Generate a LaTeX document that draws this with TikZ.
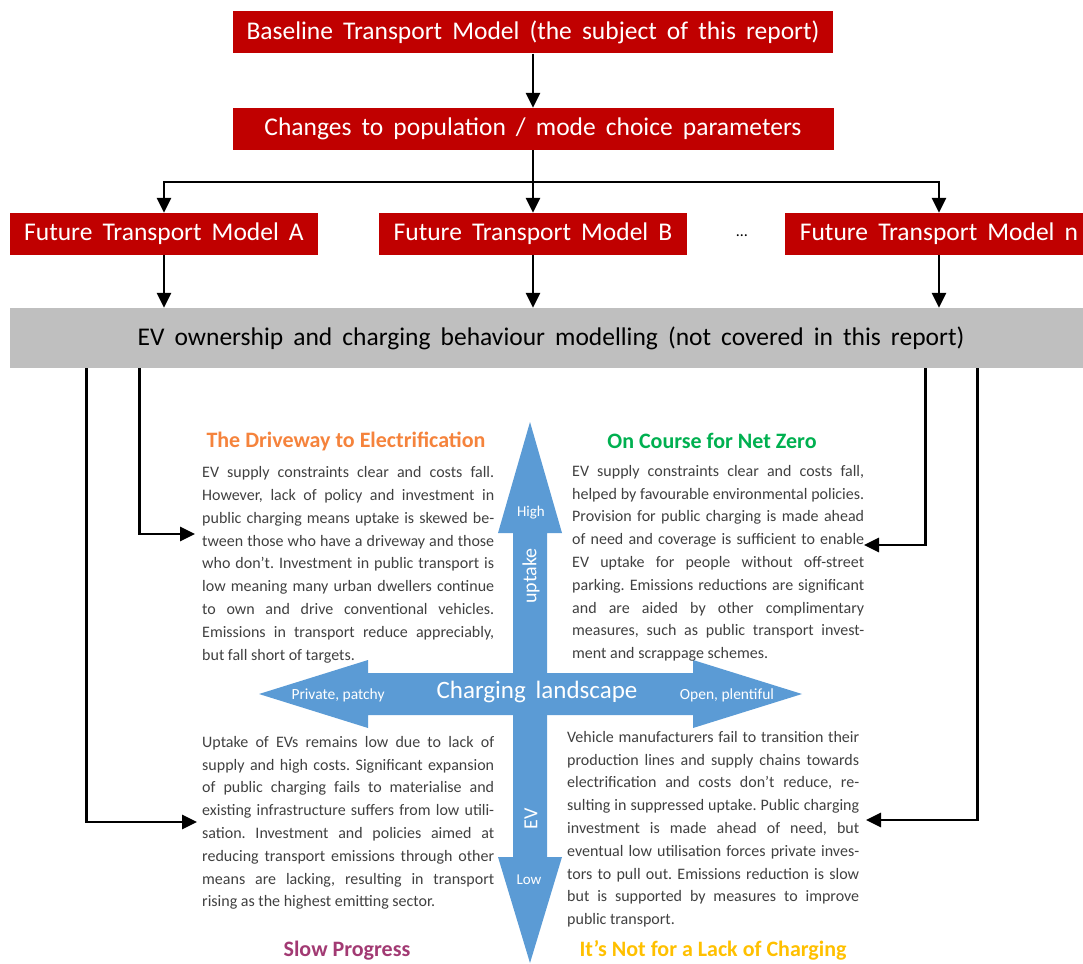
\documentclass[tikz,border=0pt]{standalone}
\usepackage{fontspec}
\setmainfont{Carlito}
\newfontfamily\boxfont{Carlito}[WordSpace=1.75]
\usetikzlibrary{arrows.meta}

\definecolor{boxred}{HTML}{C00000}
\definecolor{boxgrey}{HTML}{BFBFBF}
\definecolor{crossblue}{HTML}{5B9BD5}
\definecolor{txtgrey}{HTML}{404040}
\definecolor{ttlorange}{HTML}{F5833C}
\definecolor{ttlgreen}{HTML}{00B050}
\definecolor{ttlpurple}{HTML}{A23A73}
\definecolor{ttlgold}{HTML}{FFC000}

\begin{document}
\begin{tikzpicture}[>={Triangle[length=15pt,width=14pt]},x=1pt,y=-1pt,
  model/.style={fill=boxred,text=white,inner sep=0pt,minimum height=42pt,
    font=\boxfont\fontsize{25.5}{28}\selectfont},
  flow/.style={->,line width=2.8pt},
  para/.style={anchor=north west,inner sep=0pt,text width=292pt,align=justify,
    text=txtgrey,font=\fontsize{16}{22.8}\selectfont},
  title/.style={anchor=base,font=\bfseries\fontsize{22}{24}\selectfont},
  axis/.style={text=white,inner sep=0pt}]
\useasboundingbox (0,0) rectangle (1083,963);
\frenchspacing
\tolerance=10000 \hyphenpenalty=10000 \exhyphenpenalty=10000

% model chain
\node[model,minimum width=600pt] (base) at (533,32.5) {Baseline Transport Model (the subject of this report)};
\node[model,minimum width=601pt] (chg) at (533,129) {Changes to population / mode choice parameters};
\node[model,minimum width=308pt] (mA) at (164,234) {Future Transport Model A};
\node[model,minimum width=308pt] (mB) at (533,234) {Future Transport Model B};
\node[model,minimum width=308pt] (mN) at (939,234) {Future Transport Model n};
\node[font=\fontsize{16}{18}\selectfont] (dots) at (742,236) {\ldots};
\node[fill=boxgrey,inner sep=0pt,minimum width=1082pt,minimum height=60pt,
  font=\boxfont\fontsize{25.5}{28}\selectfont] (evm) at (551,338)
  {EV ownership and charging behaviour modelling (not covered in this report)};

\coordinate (split) at (533,182);
\draw[flow] (base) -- (chg);
\draw[flow] (chg) -- (mB);
\draw[flow] (split) -| (mA.north);
\draw[flow] (split) -| (mN.north);
\draw[flow] (mA) -- (mA |- evm.north);
\draw[flow] (mB) -- (mB |- evm.north);
\draw[flow] (mN) -- (mN |- evm.north);

% charging landscape / EV uptake cross
\fill[crossblue] (259,694) -- (368,660) -- (368,673) -- (693,673) -- (693,660)
  -- (802,694) -- (693,728) -- (693,715) -- (368,715) -- (368,728) -- cycle;
\fill[crossblue] (530,422) -- (562,533) -- (547,533) -- (547,857) -- (562,857)
  -- (530,963) -- (498,857) -- (513,857) -- (513,533) -- (498,533) -- cycle;
\node[axis,font=\boxfont\fontsize{25}{28}\selectfont] (land) at (537,692) {Charging landscape};
\node[axis,font=\fontsize{15.5}{17}\selectfont] (priv) at (338,695) {Private, patchy};
\node[axis,font=\fontsize{15.5}{17}\selectfont] (open) at (727,695) {Open, plentiful};
\node[axis,font=\fontsize{15}{17}\selectfont] (high) at (531,513) {High};
\node[axis,font=\fontsize{15}{17}\selectfont] (low) at (529,880) {Low};
\node[axis,rotate=90,font=\fontsize{20}{24}\selectfont] (upt) at (531,576) {uptake};
\node[axis,rotate=90,font=\fontsize{20}{24}\selectfont] (ev) at (531,819) {EV};

% scenario quadrants
\node[title,text=ttlorange] (ttl) at (346,447) {The Driveway to Electrification};
\node[title,text=ttlgreen] (ttr) at (712,448) {On Course for Net Zero};
\node[title,text=ttlpurple] (tbl) at (347,956) {Slow Progress};
\node[title,text=ttlgold] (tbr) at (713,956) {It’s Not for a Lack of Charging};

\node[para] (tl) at (202,465.5) {\rule{0pt}{12pt}EV supply constraints clear and costs fall.\linebreak
However, lack of policy and investment in\linebreak
public charging means uptake is skewed be-\linebreak
tween those who have a driveway and those\linebreak
who don’t. Investment in public transport is\linebreak
low meaning many urban dwellers continue\linebreak
to own and drive conventional vehicles.\linebreak
Emissions in transport reduce appreciably,\linebreak
but fall short of targets.};
\node[para] (tr) at (572,464) {\rule{0pt}{12pt}EV supply constraints clear and costs fall,\linebreak
helped by favourable environmental policies.\linebreak
Provision for public charging is made ahead\linebreak
of need and coverage is sufficient to enable\linebreak
EV uptake for people without off-street\linebreak
parking. Emissions reductions are significant\linebreak
and are aided by other complimentary\linebreak
measures, such as public transport invest-\linebreak
ment and scrappage schemes.};
\node[para] (bl) at (202,735) {\rule{0pt}{12pt}Uptake of EVs remains low due to lack of\linebreak
supply and high costs. Significant expansion\linebreak
of public charging fails to materialise and\linebreak
existing infrastructure suffers from low utili-\linebreak
sation. Investment and policies aimed at\linebreak
reducing transport emissions through other\linebreak
means are lacking, resulting in transport\linebreak
rising as the highest emitting sector.};
\node[para] (br) at (567,730) {\rule{0pt}{12pt}Vehicle manufacturers fail to transition their\linebreak
production lines and supply chains towards\linebreak
electrification and costs don’t reduce, re-\linebreak
sulting in suppressed uptake. Public charging\linebreak
investment is made ahead of need, but\linebreak
eventual low utilisation forces private inves-\linebreak
tors to pull out. Emissions reduction is slow\linebreak
but is supported by measures to improve\linebreak
public transport.};

% feeds from the modelling box into each scenario
\coordinate (tlIn) at (195,534);
\coordinate (blIn) at (197,822);
\coordinate (trIn) at (864,545);
\coordinate (brIn) at (866,820);
\draw[flow] ([xshift=130pt]evm.south west) |- (tlIn);
\draw[flow] ([xshift=77pt]evm.south west) |- (blIn);
\draw[flow] ([xshift=-167pt]evm.south east) |- (trIn);
\draw[flow] ([xshift=-115pt]evm.south east) |- (brIn);
\end{tikzpicture}
\end{document}
